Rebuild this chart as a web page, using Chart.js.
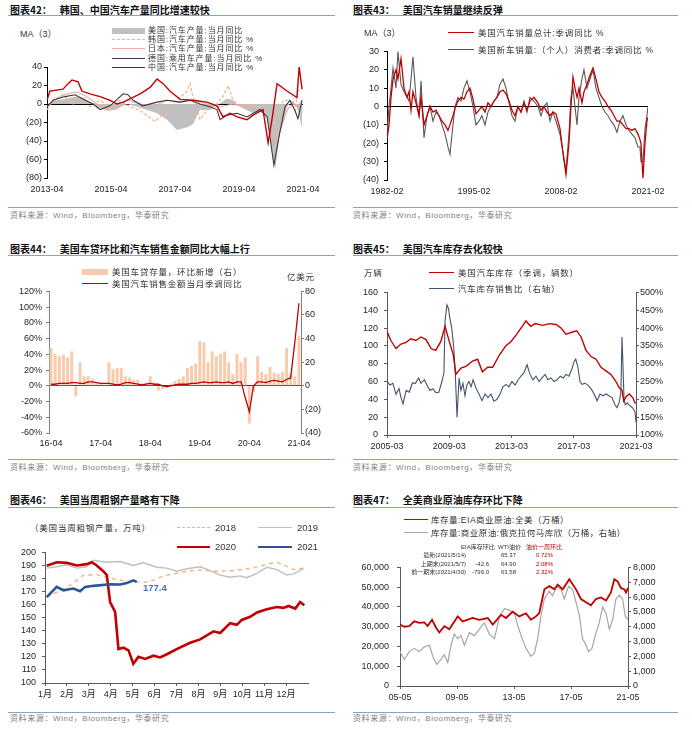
<!DOCTYPE html>
<html><head><meta charset="utf-8">
<script src="https://cdn.jsdelivr.net/npm/chart.js@4.4.1/dist/chart.umd.min.js"></script>
<style>
body{margin:0;width:692px;height:731px;background:#fff;position:relative;overflow:hidden;font-family:"Liberation Sans",Arial,sans-serif;}
.abs{position:absolute;white-space:nowrap}
.ttl{font:bold 10px "Noto Sans CJK SC";color:#111;line-height:12px}
.src{font:8px "Liberation Sans","Noto Sans CJK SC";color:#7f7f7f;line-height:10px;letter-spacing:0.6px}
.lg{font:8.5px "Liberation Sans","Noto Sans CJK SC";color:#333;line-height:10px;letter-spacing:0.8px}
.tb{font:6px "Liberation Sans","Noto Sans CJK SC";color:#333;line-height:8px}
canvas{position:absolute}
</style></head><body>
<script>
// ===================== DATA =====================
// Chart 42 (x = decimal year)
const c1Ticks=[2013.25,2015.25,2017.25,2019.25,2021.25];
const c1TickLabels=['2013-04','2015-04','2017-04','2019-04','2021-04'];
const c1UsX=[2013.25,2013.56,2013.88,2014.19,2014.50,2014.81,2015.13,2015.44,2015.75,2016.06,2016.38,2016.69,2017.00,2017.31,2017.63,2017.81,2018.03,2018.34,2018.88,2019.06,2019.28,2019.69,2020.00,2020.13,2020.38,2020.53,2020.75,2020.94,2021.09,2021.22];
const c1UsY=[0,4,6,8,4,-3,-6.5,-5,0,-3,-6.5,-10,-17,-28,-25,-22,-6.5,-6.5,6,4,-3,-10,-6.5,-15,-71,-31,-3,4,-6.5,-26];
const c1KrX=[2013.25,2013.44,2013.75,2014.06,2014.38,2014.59,2014.91,2015.22,2015.53,2015.84,2016.16,2016.63,2016.78,2017.00,2017.31,2017.63,2017.72,2017.81,2018.03,2018.25,2018.56,2018.75,2018.91,2019.06,2019.28,2019.59,2019.91,2020.13,2020.28,2020.44,2020.63,2020.84,2021.00,2021.09,2021.22];
const c1KrY=[-6.5,4,10,0,8,-3,4,-3,4,-3,-7,-19,-14,-7,4,14,22,8,-17,-6.5,0,8,20,4,-3,0,-7,-14,-35,-17,4,4,-7,14,16];
const c1JpX=[2013.25,2013.56,2013.88,2014.19,2014.50,2014.81,2015.13,2015.44,2015.75,2016.16,2016.56,2017.00,2017.41,2017.81,2018.25,2018.66,2019.06,2019.50,2019.91,2020.13,2020.31,2020.53,2020.75,2020.94,2021.09,2021.22];
const c1JpY=[-3,6,11,13,8,0,-7,-5,4,0,-3,4,2,4,0,-3,0,-3,-7,-14,-44,-30,-6.5,0,-3,4];
const c1DeX=[2013.25,2013.44,2013.81,2014.13,2014.34,2014.69,2014.91,2015.22,2015.63,2015.78,2015.94,2016.25,2016.69,2017.00,2017.41,2017.72,2018.03,2018.34,2018.56,2018.66,2018.88,2019.19,2019.50,2019.91,2020.13,2020.34,2020.53,2020.69,2020.84,2021.00,2021.09,2021.22];
const c1DeY=[-3,4,8,10,6,0,-6,-2,11,10,4,-2,2,4,2,4,0,-3,-6,-17,-12,-10,-14,-6,-14,-66,-30,-3,4,-7,-16,4];
const c1CnX=[2013.25,2013.34,2013.75,2013.91,2014.03,2014.22,2014.34,2014.59,2014.91,2015.22,2015.44,2015.63,2016.16,2016.47,2016.69,2016.88,2017.09,2017.41,2017.81,2018.25,2018.56,2018.75,2018.97,2019.19,2019.50,2019.69,2020.00,2020.16,2020.28,2020.44,2020.75,2021.06,2021.13,2021.22];
const c1CnY=[4,14,16,22,26,24,14,11,8,4,0,2,11,18,27,22,14,5,4,2,-2,-14,-10,-14,-17,-12,-6,-42,-17,22,14,7,40,16];

// Chart 43
const c2Ticks=[1982.08,1995.08,2008.08,2021.08];
const c2TickLabels=['1982-02','1995-02','2008-02','2021-02'];
const c2X=[1982.08,1982.38,1982.68,1982.98,1983.42,1983.72,1984.17,1984.62,1985.07,1985.37,1985.67,1985.96,1986.41,1986.86,1987.16,1987.61,1988.06,1988.50,1988.95,1989.40,1989.85,1990.30,1990.75,1991.19,1991.49,1991.94,1992.24,1992.69,1993.14,1993.58,1994.03,1994.48,1994.93,1995.38,1995.82,1996.27,1996.72,1997.17,1997.62,1998.07,1998.51,1998.96,1999.41,1999.86,2000.31,2000.76,2001.20,2001.65,2002.10,2002.55,2003.00,2003.44,2004.04,2004.64,2005.09,2005.54,2005.98,2006.43,2006.88,2007.33,2007.93,2008.37,2008.82,2009.27,2009.57,2009.87,2010.17,2010.47,2010.77,2011.21,2011.51,2011.96,2012.41,2012.86,2013.30,2013.75,2014.20,2014.65,2015.10,2015.55,2016.00,2016.44,2016.89,2017.34,2017.79,2018.24,2018.68,2019.13,2019.58,2019.88,2020.03,2020.33,2020.63,2020.92,2021.07];
const c2Total=[-18,-10,5,15,20,15,26,10,5,8,-2,8,2,-5,5,-10,-5,0,-3,-2,-5,-8,-10,-13,-10,-5,-1,3,5,4,8,10,4,-4,-2,0,-3,2,0,3,5,8,9,7,3,-2,-5,0,-3,2,-2,3,5,2,-2,0,-3,-5,-3,-4,-12,-25,-37,-20,0,16,10,5,10,2,8,12,17,21,15,8,5,3,0,-2,-5,-8,-8,-10,-12,-12,-13,-12,-15,-18,-20,-39,-20,-8,-6];
const c2Consumer=[-15,0,10,21,10,30,12,8,5,3,15,27,5,-5,14,-17,-5,0,-8,-3,-5,-10,-15,-22,-26,-10,0,5,3,10,14,8,0,-10,-8,-5,-10,-3,0,3,5,12,15,10,2,-5,-8,0,-3,3,-3,5,3,0,-5,0,2,-8,-3,-8,-15,-25,-35,-15,5,10,0,-10,5,15,20,10,15,20,10,5,0,-3,-5,-8,-10,-14,-8,-5,-10,-13,-15,-17,-22,-22,-30,-30,-12,-5,0];

// Chart 44 (monthly 16-04 .. 21-04)
const c3Loans=[32,27,25,26,24,29,-9,20,8,8, 6,3,2,1,20,14,15,15,8,7, 5,5,2,3,8,3,-4,-3,-2,2, 4,6,8,15,17,19,38,37,20,29, 25,27,29,20,10,27,20,24,-32,-5, 25,12,10,16,11,10,12,32,10,8, 42];
const c3Sales=[2,2,3,3,3,4,4,3,3, 5,5,4,3,3,3,2,1,2, 4,4,3,2,1,2,3,2,2, 0,-1,0,1,2,2,2,3,3, 4,5,4,4,5,4,4,5,3, 5,5,-15,-33, 0,5,5,4,6,7,6,5,8,10,55,105];
const c3Months=[];
for(let y=16,m=4;!(y===21&&m===5);){c3Months.push(String(y)+'-'+String(m).padStart(2,'0'));m++;if(m>12){m=1;y++;}}

// Chart 45
const c4Ticks=[2005.17,2009.17,2013.17,2017.17,2021.17];
const c4TickLabels=['2005-03','2009-03','2013-03','2017-03','2021-03'];
const c4InvX=[2005.17,2005.42,2005.75,2006.07,2006.4,2006.7,2007.03,2007.35,2007.68,2008.0,2008.3,2008.63,2008.9,2009.17,2009.43,2009.6,2009.92,2010.25,2010.67,2010.99,2011.3,2011.64,2011.96,2012.4,2012.8,2013.14,2013.46,2013.78,2014.1,2014.4,2014.7,2015.17,2015.6,2016.03,2016.35,2016.67,2016.99,2017.36,2017.64,2017.96,2018.28,2018.6,2018.92,2019.24,2019.56,2019.88,2020.1,2020.27,2020.38,2020.53,2020.74,2020.96,2021.13];
const c4InvY=[116,106,97,102,104,108,106,110,107,97,95,105,122,105,90,68,75,77,83,85,71,76,76,90,100,105,112,120,128,122,125,123,125,124,120,113,115,117,110,95,88,85,76,72,68,60,53,50,38,43,46,42,35];
const c4RatioX=[2005.17,2005.36,2005.55,2005.75,2005.94,2006.07,2006.2,2006.4,2006.6,2006.8,2007.0,2007.2,2007.35,2007.57,2007.8,2007.93,2008.12,2008.3,2008.5,2008.7,2008.83,2008.9,2009.02,2009.12,2009.2,2009.33,2009.47,2009.57,2009.67,2009.8,2009.92,2010.05,2010.18,2010.3,2010.44,2010.57,2010.7,2010.9,2011.08,2011.27,2011.47,2011.66,2011.85,2012.04,2012.24,2012.43,2012.62,2012.82,2013.0,2013.2,2013.4,2013.6,2013.78,2013.97,2014.17,2014.36,2014.55,2014.74,2014.94,2015.13,2015.33,2015.5,2015.7,2015.9,2016.1,2016.3,2016.5,2016.67,2016.86,2017.05,2017.18,2017.3,2017.44,2017.57,2017.7,2017.9,2018.08,2018.28,2018.48,2018.67,2018.86,2019.05,2019.24,2019.43,2019.63,2019.82,2019.95,2020.08,2020.2,2020.27,2020.33,2020.4,2020.48,2020.6,2020.7,2020.85,2020.98,2021.1,2021.17];
const c4RatioY=[251,240,245,214,230,205,187,225,220,246,245,260,245,255,235,225,230,219,220,250,275,420,465,455,430,400,340,260,150,260,225,245,210,240,250,235,255,230,215,196,215,205,215,195,200,215,235,242,235,250,240,255,265,275,297,270,255,265,250,260,270,255,260,250,255,265,260,270,265,285,305,313,290,250,242,245,240,230,215,196,215,210,215,210,205,185,177,190,220,375,300,200,185,190,185,180,175,165,136];

// Chart 46 (x = month position, 0 = start of Jan)
const c5Ticks=[0,1,2,3,4,5,6,7,8,9,10,11];
const c5TickLabels=['1月','2月','3月','4月','5月','6月','7月','8月','9月','10月','11月','12月'];
const c5X2018=[0.08,0.6,0.99,1.4,1.75,2.36,2.97,3.73,4.49,5.0,5.4,6.0,6.47,7.08,7.84,8.6,9.0,9.5,10.12,10.58,11.03,11.34,11.8];
const c5Y2018=[165.7,170,173,178,182.6,183,180,178,177,179,182,184,185.6,186.5,185.6,186,187,188,191,192.5,189.3,186.8,188];
const c5X2019=[0.08,0.53,0.99,1.45,1.9,2.21,2.82,3.43,4.03,4.49,5.1,5.56,6.01,6.47,7.08,7.53,7.99,8.45,8.9,9.21,9.67,10.12,10.58,11.03,11.34,11.8];
const c5Y2019=[188,189,190.5,188,189,194,192.5,193,190,192,188.6,188,185.6,187.5,189,186,182.6,181,182,180.6,184,188.6,186.8,182.6,183.6,187.5];
const c5X2020=[0.08,0.53,0.99,1.45,1.9,2.13,2.36,2.66,2.82,2.97,3.2,3.35,3.58,3.81,4.03,4.26,4.57,4.95,5.25,5.56,6.01,6.62,7.08,7.69,7.99,8.45,8.75,8.98,9.36,9.67,10.12,10.58,10.88,11.11,11.42,11.64,11.83];
const c5Y2020=[189.8,192.5,192,190,191,192.5,190,185.6,182.6,162,154.5,126,127,125,114.7,120,118.4,120.9,119.6,122,126,130.8,133.4,139.6,138.3,145.8,144.5,148.3,150.7,154,156.5,158.2,157.5,159,157,162,159.5];
const c5X2021=[0.08,0.53,0.84,1.29,1.6,1.83,2.21,2.97,3.43,3.73,4.03,4.19];
const c5Y2021=[165.7,173.6,171,172.3,170.3,173.6,174.4,175.6,175.4,176.5,178.5,177.4];

// Chart 47
const c6Ticks=[2005.33,2009.33,2013.33,2017.33,2021.33];
const c6TickLabels=['05-05','09-05','13-05','17-05','21-05'];
const c6CrudeX=[2005.33,2005.63,2005.98,2006.33,2006.68,2007.04,2007.27,2007.58,2007.86,2008.09,2008.44,2008.79,2009.38,2009.73,2010.43,2010.90,2011.49,2011.84,2012.42,2012.77,2013.24,2013.70,2014.17,2014.52,2014.87,2015.10,2015.46,2015.81,2016.16,2016.40,2016.75,2017.21,2017.68,2018.03,2018.38,2018.73,2019.08,2019.43,2019.79,2020.13,2020.37,2020.60,2020.83,2021.07,2021.19,2021.33];
const c6CrudeY=[31100,30000,30300,32700,31900,32200,30300,33500,29500,27100,30300,28700,35200,32700,34400,33500,34400,31100,36000,34400,37600,35200,36800,33500,35200,36800,48900,50500,48900,51300,48900,54000,48900,44000,42400,40800,44000,44800,43200,47300,54000,52900,49600,48900,47300,49600];
const c6CushX=[2005.33,2005.63,2005.98,2006.33,2006.68,2007.04,2007.39,2007.67,2007.91,2008.21,2008.44,2008.68,2008.91,2009.14,2009.38,2009.61,2009.85,2010.2,2010.55,2010.9,2011.25,2011.6,2011.96,2012.31,2012.66,2013.0,2013.36,2013.6,2013.83,2014.17,2014.52,2014.76,2014.99,2015.22,2015.46,2015.81,2016.04,2016.32,2016.63,2016.86,2017.16,2017.44,2017.68,2017.91,2018.14,2018.33,2018.56,2018.8,2019.03,2019.31,2019.55,2019.79,2020.02,2020.25,2020.48,2020.72,2020.95,2021.14,2021.33];
const c6CushY=[2320,1790,2320,2540,2320,2640,2750,1890,1460,1790,2110,1570,2750,3500,3190,3400,2750,3600,3400,3830,4260,3500,3190,4690,5220,5120,4900,4050,3400,2540,2000,2210,3190,4690,5870,6400,6080,6730,6510,5870,6730,6510,5660,4790,3180,2860,2320,2540,3400,4260,5330,4900,3830,4470,5870,6130,5870,4690,4470];

// ===================== HELPERS =====================
const RED='#C00000';
const tickFont={family:'"Liberation Sans", Arial, "Noto Sans CJK SC"',size:9};
const TICKC='#262626';
const paren=v=>v<0?'('+(-v)+')':String(v);
const pts=(xs,ys)=>xs.map((x,i)=>({x:x,y:ys[i]}));

function makeCanvas(L,T,R,B,o){
  const pt=o.pt??8, pr=o.pr??0;
  const cx=L-o.wl, cy=T-pt;
  const cw=R+(o.wr||0)+pr-cx, ch=B+o.hx-cy;
  const c=document.createElement('canvas');
  c.width=cw;c.height=ch;
  c.style.left=cx+'px';c.style.top=cy+'px';c.style.width=cw+'px';c.style.height=ch+'px';
  document.body.appendChild(c);
  return {c:c,pad:{left:0,top:pt,right:pr,bottom:0}};
}
function yAxis(pos,min,max,step,fmt,w,o){
  return {type:'linear',position:pos,min:min,max:max,
    afterFit:s=>{s.width=w;},
    border:{display:true,color:o.axis,width:1},
    grid:{drawOnChartArea:!!o.zero,drawTicks:true,tickLength:3,tickColor:o.axis,lineWidth:1,
      color:ctx=>(o.zero&&ctx.tick&&ctx.tick.value===0)?o.zero:'rgba(0,0,0,0)'},
    ticks:{stepSize:step,callback:fmt,font:tickFont,color:TICKC,padding:o.pad??2,autoSkip:false}};
}
function xLin(min,max,tv,tl,h,o){
  return {type:'linear',min:min,max:max,
    afterFit:s=>{s.height=h;},
    afterBuildTicks:s=>{s.ticks=tv.map(v=>({value:v}));},
    border:{display:!!o.border,color:o.axis||'#595959',width:1},
    grid:{display:true,drawOnChartArea:false,drawTicks:!!o.ticks,tickLength:3,tickColor:o.axis||'#595959',color:'rgba(0,0,0,0)'},
    ticks:{callback:(v,i)=>tl[i],font:o.font||tickFont,color:TICKC,padding:o.pad,maxRotation:0,autoSkip:false}};
}
function line(data,color,w,extra){
  return Object.assign({type:'line',data:data,borderColor:color,borderWidth:w,pointRadius:0,fill:false,tension:0},extra||{});
}
function baseOpts(pad,scales){
  return {responsive:false,animation:false,events:[],layout:{padding:pad},
    plugins:{legend:{display:false},tooltip:{enabled:false}},scales:scales};
}
function txt(x,y,s,cls,css){
  const d=document.createElement('div');d.className='abs '+cls;d.textContent=s;
  d.style.left=x+'px';d.style.top=y+'px';if(css)d.style.cssText+=css;document.body.appendChild(d);return d;
}
function rule(x1,x2,y){const d=document.createElement('div');d.className='abs';
  d.style.cssText+=`left:${x1}px;top:${y}px;width:${x2-x1}px;height:0;border-top:1.5px solid #8BA3BF`;document.body.appendChild(d);}
function lgLine(x,y,w,color,th,style){const d=document.createElement('div');d.className='abs';
  d.style.cssText+=`left:${x}px;top:${y-th/2}px;width:${w}px;height:0;border-top:${th}px ${style||'solid'} ${color}`;document.body.appendChild(d);}
function lgRect(x,y,w,h,color){const d=document.createElement('div');d.className='abs';
  d.style.cssText+=`left:${x}px;top:${y-h/2}px;width:${w}px;height:${h}px;background:${color}`;document.body.appendChild(d);}

// ===================== CHART 42 =====================
(function(){
  const k=makeCanvas(47,67,303,178,{wl:47,hx:22,pr:32});
  new Chart(k.c,{data:{datasets:[
    line(pts(c1CnX,c1CnY),RED,1.4,{order:1}),
    line(pts(c1DeX,c1DeY),'#3A3A3A',1.1,{order:2}),
    line(pts(c1JpX,c1JpY),'#EBA9A9',1.1,{order:3}),
    line(pts(c1KrX,c1KrY),'#F4B183',1.2,{order:4,borderDash:[3,2]}),
    line(pts(c1UsX,c1UsY),'rgba(0,0,0,0)',0,{order:5,fill:'origin',backgroundColor:'#C0C0C0'})
  ]},options:baseOpts(k.pad,{
    x:xLin(2013.25,2021.25,c1Ticks,c1TickLabels,22,{pad:6}),
    y:yAxis('left',-80,40,20,paren,47,{axis:'#000',zero:'#000',pad:2})
  })});
})();

// ===================== CHART 43 =====================
(function(){
  const k=makeCanvas(387,49,648,180,{wl:40,hx:22,pr:30});
  new Chart(k.c,{data:{datasets:[
    line(pts(c2X,c2Total),RED,1.3,{order:1}),
    line(pts(c2X,c2Consumer),'#595959',1.1,{order:2})
  ]},options:baseOpts(k.pad,{
    x:xLin(1982.08,2021.08,c2Ticks,c2TickLabels,22,{pad:6}),
    y:yAxis('left',-40,30,10,paren,40,{axis:'#000',zero:'#000',pad:5})
  })});
})();

// ===================== CHART 44 =====================
(function(){
  const k=makeCanvas(49,290,301,433,{wl:49,wr:34,hx:20});
  new Chart(k.c,{data:{labels:c3Months,datasets:[
    Object.assign(line(c3Sales,RED,1.3),{yAxisID:'y',order:1}),
    {type:'bar',data:c3Loans,yAxisID:'y2',backgroundColor:'#F8CBAD',barPercentage:0.72,categoryPercentage:1,order:2}
  ]},options:baseOpts(k.pad,{
    x:{type:'category',offset:true,afterFit:s=>{s.height=20;},border:{display:false},grid:{display:false,drawTicks:false},
      ticks:{autoSkip:false,maxRotation:0,font:tickFont,color:TICKC,padding:5,callback:(v,i)=>i%12===0?c3Months[i]:null}},
    y:yAxis('left',-60,120,20,v=>v+'%',49,{axis:'#7f7f7f',zero:'#404040',pad:4}),
    y2:yAxis('right',-40,80,20,paren,34,{axis:'#7f7f7f',pad:1})
  })});
})();

// ===================== CHART 45 =====================
(function(){
  const k=makeCanvas(387,289,636,435,{wl:40,wr:40,hx:20});
  new Chart(k.c,{data:{datasets:[
    Object.assign(line(pts(c4InvX,c4InvY),RED,1.4),{yAxisID:'y',order:1}),
    Object.assign(line(pts(c4RatioX,c4RatioY),'#44546A',1.1),{yAxisID:'y2',order:2})
  ]},options:baseOpts(k.pad,{
    x:xLin(2005.17,2021.17,c4Ticks,c4TickLabels,20,{pad:3,border:true,ticks:true,axis:'#595959'}),
    y:yAxis('left',0,160,20,v=>String(v),40,{axis:'#595959',pad:6}),
    y2:yAxis('right',100,500,50,v=>v+'%',40,{axis:'#595959',pad:1})
  })});
})();

// ===================== CHART 46 =====================
(function(){
  const k=makeCanvas(45,549,308,683,{wl:45,hx:22,pr:20});
  new Chart(k.c,{data:{datasets:[
    line(pts(c5X2021,c5Y2021),'#2F5597',2.6,{order:1}),
    line(pts(c5X2020,c5Y2020),RED,2.6,{order:2}),
    line(pts(c5X2019,c5Y2019),'#BFBFBF',1.4,{order:3}),
    line(pts(c5X2018,c5Y2018),'#F4B183',1.4,{order:4,borderDash:[4,4]})
  ]},options:baseOpts(k.pad,{
    x:xLin(0,12,c5Ticks,c5TickLabels,22,{pad:3,border:true,ticks:true,axis:'#595959',
      font:{family:'"Liberation Sans", "Noto Sans CJK SC"',size:9}}),
    y:yAxis('left',100,200,10,v=>String(v),45,{axis:'#595959',pad:6})
  })});
})();

// ===================== CHART 47 =====================
(function(){
  const k=makeCanvas(400,562,628,686,{wl:52,wr:48,hx:20});
  new Chart(k.c,{data:{datasets:[
    Object.assign(line(pts(c6CrudeX,c6CrudeY),RED,1.8),{yAxisID:'y',order:1}),
    Object.assign(line(pts(c6CushX,c6CushY),'#A6A6A6',1.2),{yAxisID:'y2',order:2})
  ]},options:baseOpts(k.pad,{
    x:xLin(2005.33,2021.33,c6Ticks,c6TickLabels,20,{pad:3,border:true,ticks:true,axis:'#595959'}),
    y:yAxis('left',0,60000,10000,v=>v.toLocaleString('en-US'),52,{axis:'#595959',pad:8}),
    y2:yAxis('right',0,8000,1000,v=>v.toLocaleString('en-US'),48,{axis:'#595959',pad:2})
  })});
})();

// ===================== TEXT / DECORATION =====================
const titles=[
 [10,4,'图表42：','韩国、中国汽车产量同比增速较快'],
 [353,4,'图表43：','美国汽车销量继续反弹'],
 [10,243,'图表44：','美国车贷环比和汽车销售金额同比大幅上行'],
 [353,243,'图表45：','美国汽车库存去化较快'],
 [10,494,'图表46：','美国当周粗钢产量略有下降'],
 [353,494,'图表47：','全美商业原油库存环比下降']];
titles.forEach(t=>{const d=txt(t[0],t[1],'', 'ttl');
  const a=document.createElement('span');a.textContent=t[2];const b=document.createElement('span');b.textContent=t[3];b.style.marginLeft='8px';
  d.appendChild(a);d.appendChild(b);});
[[8,335,15],[353,678,15],[8,335,255],[353,678,255],[8,335,507],[353,678,507],
 [8,335,207],[353,678,207],[8,335,459],[353,678,459],[8,335,712],[353,678,712]].forEach(r=>rule(r[0],r[1],r[2]));
[[10,211],[353,211],[10,463],[353,463],[10,714],[353,714]].forEach(p=>txt(p[0],p[1],'资料来源：Wind，Bloomberg，华泰研究','src'));

// chart 42 legend
txt(20,29,'MA（3）','lg',';font-size:9px;letter-spacing:0');
const lg1=';font-size:8px;letter-spacing:0.9px';
lgRect(112,31,33,6,'#C0C0C0'); txt(148,26,'美国:汽车产量:当月同比','lg',lg1);
lgLine(112,40,33,'#F4B183',1.2,'dashed'); txt(148,35,'韩国:汽车产量:当月同比 %','lg',lg1);
lgLine(112,49,33,'#EBA9A9',1.2); txt(148,44,'日本:汽车产量:当月同比 %','lg',lg1);
lgLine(112,59,33,'#3A3A3A',1.2); txt(148,54,'德国:乘用车产量:当月同比 %','lg',lg1);
lgLine(112,68,33,RED,1.4); txt(148,63,'中国:汽车产量:当月同比 %','lg',lg1);

// chart 43 legend
txt(364,28,'MA（3）','lg',';font-size:9px;letter-spacing:0');
lgLine(448,33,26,RED,1.4); txt(478,28,'美国汽车销量总计:季调同比 %','lg');
lgLine(448,50,26,'#595959',1.2); txt(478,45,'美国新车销量:（个人）消费者:季调同比 %','lg');

// chart 44 legend
lgRect(82,272,26,6,'#F8CBAD'); txt(112,267,'美国车贷存量，环比新增（右）','lg');
lgLine(82,284,26,RED,1.2); txt(112,279,'美国汽车销售金额当月季调同比','lg');
txt(287,272,'亿美元','lg');

// chart 45 legend
txt(364,268,'万辆','lg');
lgLine(429,273,25,RED,1.4); txt(458,268,'美国汽车库存（季调，辆数）','lg');
lgLine(429,289,25,'#44546A',1.2); txt(458,284,'汽车库存销售比（右轴）','lg');

// chart 46 legend
txt(30,523,'（美国当周粗钢产量，万吨）','lg');
lgLine(177,528,33,'#F4B183',1.4,'dashed'); txt(215,522,'2018','lg',';font-size:9.5px;line-height:12px;letter-spacing:0');
lgLine(258,528,34,'#BFBFBF',1.4); txt(297,522,'2019','lg',';font-size:9.5px;line-height:12px;letter-spacing:0');
lgLine(177,547,33,RED,2.8); txt(215,541,'2020','lg',';font-size:9.5px;line-height:12px;letter-spacing:0');
lgLine(258,547,34,'#2F5597',2.8); txt(297,541,'2021','lg',';font-size:9.5px;line-height:12px;letter-spacing:0');
txt(143,582,'177.4','lg',';font-weight:bold;font-size:9.5px;line-height:12px;letter-spacing:0;color:#4472C4');

// chart 47 legend + table
lgLine(404,520,24,RED,1.6); txt(431,515,'库存量:EIA商业原油:全美（万桶）','lg',';letter-spacing:0.5px');
lgLine(404,533,24,'#A6A6A6',1.2); txt(431,528,'库存量:商业原油:俄克拉何马库欣（万桶，右轴）','lg',';letter-spacing:0.5px');
function tcell(xr,y,s,color,alignLeft){const d=txt(0,y-4,s,'tb');if(color)d.style.color=color;
  if(alignLeft){d.style.left=xr+'px';}else{d.style.left='auto';d.style.right=(692-xr)+'px';}}
tcell(461,547,'EIA库存环比',null,true); tcell(498,547,'WTI油价',null,true); tcell(526,547,'油价一周环比',RED,true);
tcell(466,555,'最新(2021/5/14)'); tcell(501,555,'65.37',null,true); tcell(536,555,'0.72%',RED,true);
tcell(466,564,'上期末(2021/5/7)'); tcell(489,564,'-42.6'); tcell(501,564,'64.90',null,true); tcell(536,564,'2.08%',RED,true);
tcell(466,572,'前一期末(2021/4/30)'); tcell(489,572,'-799.0'); tcell(501,572,'63.58',null,true); tcell(536,572,'2.32%',RED,true);
</script>
</body></html>
